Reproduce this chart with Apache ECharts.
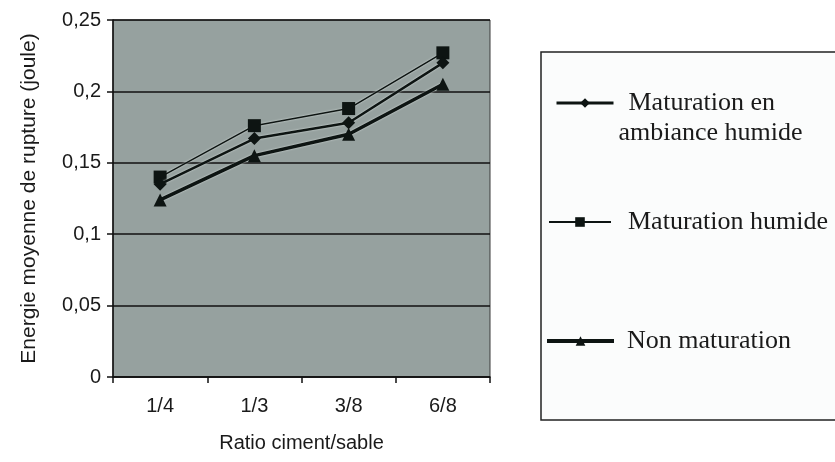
<!DOCTYPE html>
<html>
<head>
<meta charset="utf-8">
<script src="https://cdn.jsdelivr.net/npm/echarts@6/dist/echarts.min.js"></script>
<style>
  html,body{margin:0;padding:0;background:#fff;}
  #chart{width:835px;height:462px;}
</style>
</head>
<body>
<div id="chart"></div>
<script>
// categories (ratio ciment/sable)
var ratios = ['1/4', '1/3', '3/8', '6/8'];
// energie moyenne de rupture (joule)
var ambianceHumide = [0.135, 0.167, 0.178, 0.22];
var maturationHumide = [0.14, 0.176, 0.188, 0.227];
var nonMaturation = [0.124, 0.155, 0.17, 0.205];
var yTicks = ['0', '0,05', '0,1', '0,15', '0,2', '0,25'];

var names = ['Maturation en ambiance humide', 'Maturation humide', 'Non maturation'];

var myChart = echarts.init(document.getElementById('chart'));

var legendText = {
    fontFamily: 'Liberation Serif',
    fontSize: 26,
    color: '#1a1a1a',
    lineHeight: 30
};
var axisFont = {fontFamily: 'Liberation Sans', fontSize: 20, color: '#1a1a1a'};

var option = {
    backgroundColor: '#ffffff',
    animation: false,
    grid: {
        left: 113, right: 345, top: 20, bottom: 85,
        show: true,
        backgroundColor: '#96a19f',
        borderColor: '#3a3a3a',
        borderWidth: 1
    },
    graphic: [{
        type: 'rect',
        shape: {x: 541, y: 52, width: 300, height: 368},
        style: {fill: '#fbfcfc', stroke: '#222', lineWidth: 1.5},
        z: -1
    }],
    legend: [
        {
            left: 555, top: 58, padding: 0, itemWidth: 57, itemHeight: 12,
            data: [{name: names[0], lineStyle: {width: 3}}],
            formatter: function () { return '{a|Maturation en}\n{b|ambiance humide}'; },
            textStyle: Object.assign({}, legendText, {
                padding: [30, 0, 0, 0],
                rich: {a: {padding: [0, 0, 0, 10]}, b: {padding: [0, 0, 0, 0]}}
            })
        },
        {
            left: 548, top: 207, padding: 0, itemWidth: 62, itemHeight: 12,
            data: [{name: names[1], lineStyle: {width: 2}}],
            textStyle: Object.assign({}, legendText, {padding: [0, 0, 0, 12]})
        },
        {
            left: 545, top: 326, padding: 0, itemWidth: 67, itemHeight: 12,
            data: [{name: names[2], lineStyle: {width: 4}}],
            textStyle: Object.assign({}, legendText, {padding: [0, 0, 0, 8]})
        }
    ],
    xAxis: {
        type: 'category',
        data: ratios,
        boundaryGap: true,
        name: 'Ratio ciment/sable',
        nameLocation: 'middle',
        nameGap: 56,
        nameTextStyle: axisFont,
        axisLine: {lineStyle: {color: '#111', width: 1.5}},
        axisTick: {show: true, length: 6, lineStyle: {color: '#111', width: 1.5}},
        axisLabel: Object.assign({margin: 19}, axisFont),
        splitLine: {show: false}
    },
    yAxis: {
        type: 'value',
        min: 0, max: 0.25, interval: 0.05,
        name: 'Energie moyenne de rupture (joule)',
        nameLocation: 'middle',
        nameGap: 73,
        nameTextStyle: Object.assign({}, axisFont, {fontSize: 21}),
        axisLine: {show: true, lineStyle: {color: '#111', width: 1.5}},
        axisTick: {show: true, length: 6, lineStyle: {color: '#111', width: 1.5}},
        axisLabel: Object.assign({
            margin: 12,
            formatter: function (v) { return yTicks[Math.round(v / 0.05)]; }
        }, axisFont),
        splitLine: {show: true, lineStyle: {color: '#111', width: 1.5}}
    },
    series: [
        {
            name: names[0], type: 'line', data: ambianceHumide,
            symbol: 'diamond', symbolSize: 13,
            itemStyle: {color: '#0d1412'},
            lineStyle: {color: '#0d1412', width: 2.5, shadowColor: '#dfe6e4', shadowBlur: 2},
            z: 3
        },
        {
            name: names[1], type: 'line', data: maturationHumide,
            symbol: 'rect', symbolSize: 13,
            itemStyle: {color: '#0d1412'},
            lineStyle: {color: '#0d1412', width: 1.5, shadowColor: '#dfe6e4', shadowBlur: 2},
            z: 2
        },
        {
            name: names[2], type: 'line', data: nonMaturation,
            symbol: 'triangle', symbolSize: 13,
            itemStyle: {color: '#0d1412'},
            lineStyle: {color: '#0d1412', width: 3.5, shadowColor: '#dfe6e4', shadowBlur: 2},
            z: 4
        }
    ]
};

myChart.setOption(option);
</script>
</body>
</html>
